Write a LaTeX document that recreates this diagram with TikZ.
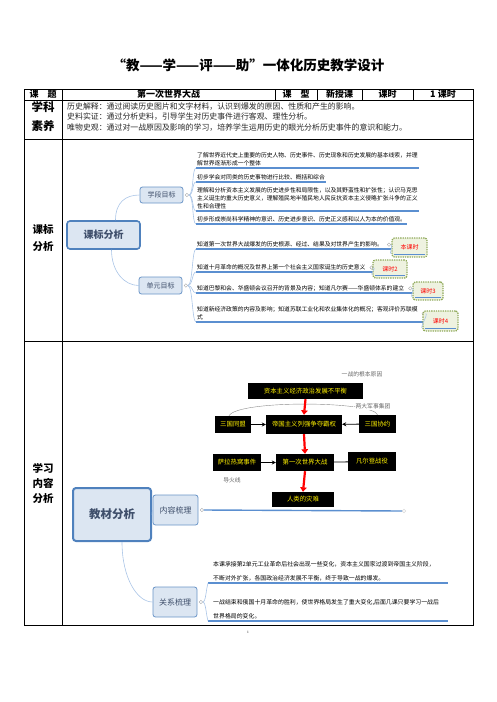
\documentclass[tikz,border=0pt]{standalone}
\usepackage{fontspec}
\setmainfont{Liberation Serif}
\newfontfamily\cjk{Noto Sans CJK SC}
\usetikzlibrary{positioning,arrows.meta}

\definecolor{mapfill}{HTML}{DCE6F2}
\definecolor{mapedge}{HTML}{4F81BD}
\definecolor{mapword}{HTML}{3F4F6B}
\definecolor{twig}{HTML}{A9C4E6}
\definecolor{underblue}{HTML}{5B8FD0}
\definecolor{notefill}{HTML}{EEF2E0}
\definecolor{noteedge}{HTML}{8FA95A}

\tikzset{
  cell/.style={font=\cjk\bfseries\fontsize{9}{11}\selectfont, inner sep=0pt, align=center},
  rowhead/.style={font=\cjk\bfseries\fontsize{10.5}{15}\selectfont, inner sep=0pt, align=center},
  literacy/.style={font=\cjk\fontsize{7.9}{10.3}\selectfont, text=black!85, inner sep=0pt, align=left, anchor=west},
  rootmap/.style={draw=mapedge, line width=1.6pt, fill=mapfill, rounded corners=3pt, text=mapword, inner sep=0pt, font=\cjk\bfseries\fontsize{10}{12}\selectfont},
  submap/.style={draw=mapedge!85, line width=0.8pt, fill=mapfill, rounded corners=2.5pt, text=mapword, inner sep=0pt, font=\cjk\fontsize{7}{8}\selectfont},
  twigline/.style={draw=twig, line width=0.6pt},
  topicline/.style={draw=underblue, line width=1.1pt},
  fold/.style={circle, draw=black!35, fill=white, line width=0.4pt, inner sep=0pt, minimum size=3.5pt},
  goal/.style={anchor=south west, align=left, inner xsep=1pt, inner ysep=1.5pt, font=\cjk\fontsize{5.8}{8}\selectfont},
  lesson/.style={draw=noteedge, densely dotted, line width=1.3pt, fill=notefill, rounded corners=2.5pt, text=red, inner sep=0pt, font=\cjk\fontsize{6}{7}\selectfont},
  flowbox/.style={fill=black, text=yellow, inner sep=0pt, font=\cjk\fontsize{6.4}{7}\selectfont},
  flownote/.style={text=black!60, inner sep=0.5pt, font=\cjk\fontsize{5.8}{6}\selectfont},
  redarrow/.style={red, line width=2.2pt, -{Triangle[length=4.5pt,width=6.5pt]}},
  thinarrow/.style={line width=0.8pt, -{Stealth[length=4pt,width=4pt]}}
}

\begin{document}
\begin{tikzpicture}[x=1pt,y=-1pt]
  \useasboundingbox (0,0) rectangle (496,702);

  % Title of the page
  \node[font=\cjk\bfseries\fontsize{13.5}{16}\selectfont] (title) at (248.5,65) {“教——学——评——助”一体化历史教学设计};

  % Table frame and rules
  \draw[line width=0.8pt] (24,89) rectangle (473,625);
  \draw[line width=0.8pt] (24,100) -- (473,100);
  \draw[line width=0.8pt] (24,139) -- (473,139);
  \draw[line width=0.8pt] (24,341) -- (473,341);
  \draw[line width=0.8pt] (62,89) -- (62,625);
  \draw[line width=0.8pt] (275,89) -- (275,100);
  \draw[line width=0.8pt] (317,89) -- (317,100);
  \draw[line width=0.8pt] (362,89) -- (362,100);
  \draw[line width=0.8pt] (413,89) -- (413,100);

  % First row: topic, type, hours
  \node[cell] (topichead) at (43,94.5) {课\hspace{1em}题};
  \node[cell] (topicname) at (168.5,94.5) {第一次世界大战};
  \node[cell] (typehead) at (296,94.5) {课\hspace{1em}型};
  \node[cell] (typename) at (339.5,94.5) {新授课};
  \node[cell] (hourhead) at (387.5,94.5) {课时};
  \node[cell] (hourvalue) at (443,94.5) {1 课时};

  % Second row: literacy goals
  \node[rowhead, font=\cjk\bfseries\fontsize{11.5}{19}\selectfont] (literacyhead) at (43,117) {学科\\素养};
  \node[literacy] (lit1) at (67,106.7) {历史解释：通过阅读历史图片和文字材料，认识到爆发的原因、性质和产生的影响。};
  \node[literacy] (lit2) at (67,116.7) {史料实证：通过分析史料，引导学生对历史事件进行客观、理性分析。};
  \node[literacy] (lit3) at (67,127.3) {唯物史观：通过对一战原因及影响的学习，培养学生运用历史的眼光分析历史事件的意识和能力。};

  % Third row: standard analysis map
  \node[rowhead, font=\cjk\bfseries\fontsize{10.5}{17}\selectfont] (standardhead) at (43,238.5) {课标\\分析};
  \node[rootmap, minimum width=73pt, minimum height=28pt] (kb) at (103.5,235) {课标分析};
  \node[submap, minimum width=43pt, minimum height=16pt] (xd) at (161.5,195) {学段目标};
  \node[submap, minimum width=43pt, minimum height=17pt] (dy) at (160.5,285.5) {单元目标};
  \draw[twigline] ([xshift=12pt]kb.north) .. controls +(0,-18) and +(-14,0) .. (xd.west);
  \draw[twigline] ([xshift=8pt]kb.south) .. controls +(0,22) and +(-14,0) .. (dy.west);
  \node[fold, right=1.5pt of xd] (mk1) {};
  \node[fold, right=1.5pt of dy] (mk2) {};

  % Stage goals
  \node[goal] (g1) at (196,168) {了解世界近代史上重要的历史人物、历史事件、历史现象和历史发展的基本线索，并理\\解世界逐渐形成一个整体};
  \node[goal] (g2) at (196,182) {初步学会对同类的历史事物进行比较、概括和综合};
  \node[goal] (g3) at (196,211) {理解和分析资本主义发展的历史进步性和局限性，以及其野蛮性和扩张性；认识马克思\\主义诞生的重大历史意义，理解殖民地半殖民地人民反抗资本主义侵略扩张斗争的正义\\性和合理性};
  \node[goal] (g4) at (196,224) {初步形成崇尚科学精神的意识、历史进步意识、历史正义感和以人为本的价值观。};
  \draw[topicline] (g1.south west) -- (g1.south east);
  \draw[topicline] (g2.south west) -- (g2.south east);
  \draw[topicline] (g3.south west) -- (g3.south east);
  \draw[topicline] (g4.south west) -- (g4.south east);
  \draw[twigline] (mk1.east) .. controls +(5,0) and +(-4,0) .. (g1.south west);
  \draw[twigline] (mk1.east) .. controls +(5,0) and +(-4,0) .. (g2.south west);
  \draw[twigline] (mk1.east) .. controls +(5,0) and +(-4,0) .. (g3.south west);
  \draw[twigline] (mk1.east) .. controls +(5,0) and +(-4,0) .. (g4.south west);

  % Unit goals with their lessons
  \node[goal] (u1) at (196,249) {知道第一次世界大战爆发的历史根源、经过、结果及对世界产生的影响。};
  \node[goal] (u2) at (196,272) {知道十月革命的概况及世界上第一个社会主义国家诞生的历史意义};
  \node[goal] (u3) at (196,293) {知道巴黎和会、华盛顿会议召开的背景及内容；知道凡尔赛——华盛顿体系的建立};
  \node[goal] (u4) at (196,322) {知道新经济政策的内容及影响；知道苏联工业化和农业集体化的概况；客观评价苏联模\\式};
  \node[fold, right=3pt of u1] (mu1) {};
  \node[fold, right=3pt of u2] (mu2) {};
  \node[fold, right=3pt of u3] (mu3) {};
  \node[fold, right=3pt of u4] (mu4) {};
  \draw[topicline] (u1.south west) -- (u1.south west -| mu1.east);
  \draw[topicline] (u2.south west) -- (u2.south west -| mu2.east);
  \draw[topicline] (u3.south west) -- (u3.south west -| mu3.east);
  \draw[topicline] (u4.south west) -- (u4.south west -| mu4.east);
  \draw[twigline] (mk2.east) .. controls +(5,0) and +(-4,0) .. (u1.south west);
  \draw[twigline] (mk2.east) .. controls +(5,0) and +(-4,0) .. (u2.south west);
  \draw[twigline] (mk2.east) .. controls +(5,0) and +(-4,0) .. (u3.south west);
  \draw[twigline] (mk2.east) .. controls +(5,0) and +(-4,0) .. (u4.south west);
  \node[lesson, minimum width=35pt, minimum height=19pt] (c1) at (409.5,247.5) {本课时};
  \node[lesson, minimum width=34pt, minimum height=18pt] (c2) at (390,269) {课时2};
  \node[lesson, minimum width=30pt, minimum height=18pt] (c3) at (428,291) {课时3};
  \node[lesson, minimum width=35pt, minimum height=20pt] (c4) at (440.5,321) {课时4};
  \draw[topicline] ([xshift=3pt,yshift=3.5pt]c1.south west) -- ([xshift=-3pt,yshift=3.5pt]c1.south east);
  \draw[topicline] ([xshift=3pt,yshift=3.5pt]c2.south west) -- ([xshift=-3pt,yshift=3.5pt]c2.south east);
  \draw[topicline] ([xshift=3pt,yshift=3.5pt]c3.south west) -- ([xshift=-3pt,yshift=3.5pt]c3.south east);
  \draw[topicline] ([xshift=3pt,yshift=3.5pt]c4.south west) -- ([xshift=-3pt,yshift=3.5pt]c4.south east);
  \draw[twigline] (mu1.east) .. controls +(3,0) and +(-3,0) .. ([yshift=3.5pt]c1.south west);
  \draw[twigline] (mu2.east) .. controls +(3,0) and +(-3,0) .. ([yshift=3.5pt]c2.south west);
  \draw[twigline] (mu3.east) .. controls +(3,0) and +(-3,0) .. ([yshift=3.5pt]c3.south west);
  \draw[twigline] (mu4.east) .. controls +(3,0) and +(-3,0) .. ([yshift=3.5pt]c4.south west);

  % Fourth row: content analysis
  \node[rowhead] (contenthead) at (43,483) {学习\\内容\\分析};

  % Flow chart of causes
  \node[flownote] (rootnote) at (362,374) {一战的根本原因};
  \node[flowbox, minimum width=115pt, minimum height=16pt] (root) at (305.5,391) {资本主义经济政治发展不平衡};
  \node[flowbox, minimum width=36pt, minimum height=17pt] (alliance) at (233,424.5) {三国同盟};
  \node[flowbox, minimum width=76pt, minimum height=19pt] (rivalry) at (304,424.5) {帝国主义列强争夺霸权};
  \node[flowbox, minimum width=37pt, minimum height=18pt] (entente) at (377.5,424) {三国协约};
  \node[flowbox, minimum width=48pt, minimum height=17pt] (sarajevo) at (237,462.5) {萨拉热窝事件};
  \node[flowbox, minimum width=58pt, minimum height=17pt] (war) at (305,462.5) {第一次世界大战};
  \node[flowbox, minimum width=48pt, minimum height=19pt] (verdun) at (372,461.5) {凡尔登战役};
  \node[flowbox, minimum width=62pt, minimum height=15pt] (disaster) at (303,499.5) {人类的灾难};
  \node[flownote] (fusenote) at (232,480) {导火线};
  \draw[black!45, line width=0.4pt] ([xshift=-4pt]alliance.north) .. controls +(8,-16) and +(-4,-14) .. (entente.north);
  \node[flownote, fill=white] (blocnote) at (372,406.5) {-两大军事集团};
  \draw[redarrow] (root.south) -- (rivalry.north);
  \draw[redarrow] (rivalry.south) -- (war.north);
  \draw[redarrow] (war.south) -- (disaster.north);
  \draw[thinarrow] (alliance) -- (rivalry);
  \draw[thinarrow] (entente) -- (rivalry);
  \draw[thinarrow] (sarajevo) -- (war);
  \draw[line width=0.8pt] (war) -- (verdun);

  % Textbook analysis map
  \node[rootmap, line width=2pt, minimum width=78pt, minimum height=53pt, font=\cjk\bfseries\fontsize{11.5}{13}\selectfont] (jc) at (112,514.5) {教材分析};
  \node[submap, minimum width=45pt, minimum height=30pt, font=\cjk\fontsize{8}{9}\selectfont] (nr) at (175.5,510) {内容梳理};
  \node[submap, minimum width=44pt, minimum height=30pt, font=\cjk\fontsize{8}{9}\selectfont] (gx) at (175,602) {关系梳理};
  \draw[twigline] (jc.east) -- (nr.west);
  \draw[twigline] ([xshift=10pt]jc.south) .. controls +(0,35) and +(-16,0) .. (gx.west);
  \node[fold, right=1.5pt of nr] (mk3) {};
  \node[fold, right=1.5pt of gx] (mk4) {};
  \node[fold, draw=black!15] (mk5) at (404,511) {};
  \draw[topicline, line width=1.4pt] (mk3.east) -- (mk5.west);

  % Relations between lessons
  \node[goal, text width=230pt, inner xsep=5pt, font=\cjk\fontsize{5.9}{14}\selectfont] (r1) at (208,583) {本课承接第2单元工业革命后社会出现一些变化，资本主义国家过渡到帝国主义阶段，\\不断对外扩张，各国政治经济发展不平衡，终于导致一战的爆发。};
  \node[goal, text width=230pt, inner xsep=5pt, font=\cjk\fontsize{5.9}{14}\selectfont] (r2) at (208,621) {一战结束和俄国十月革命的胜利，使世界格局发生了重大变化,后面几课只要学习一战后\\世界格局的变化。};
  \draw[topicline, line width=1.4pt] (r1.south west) -- (r1.south east);
  \draw[topicline, line width=1.4pt] (r2.south west) -- (r2.south east);
  \draw[twigline] (mk4.east) .. controls +(3,0) and +(-2,7) .. (r1.south west);
  \draw[twigline] (mk4.east) .. controls +(3,0) and +(-2,-7) .. (r2.south west);

  % Page number
  \node[font=\fontsize{3.5}{4}\selectfont] (pageno) at (248,632) {1};
\end{tikzpicture}
\end{document}
